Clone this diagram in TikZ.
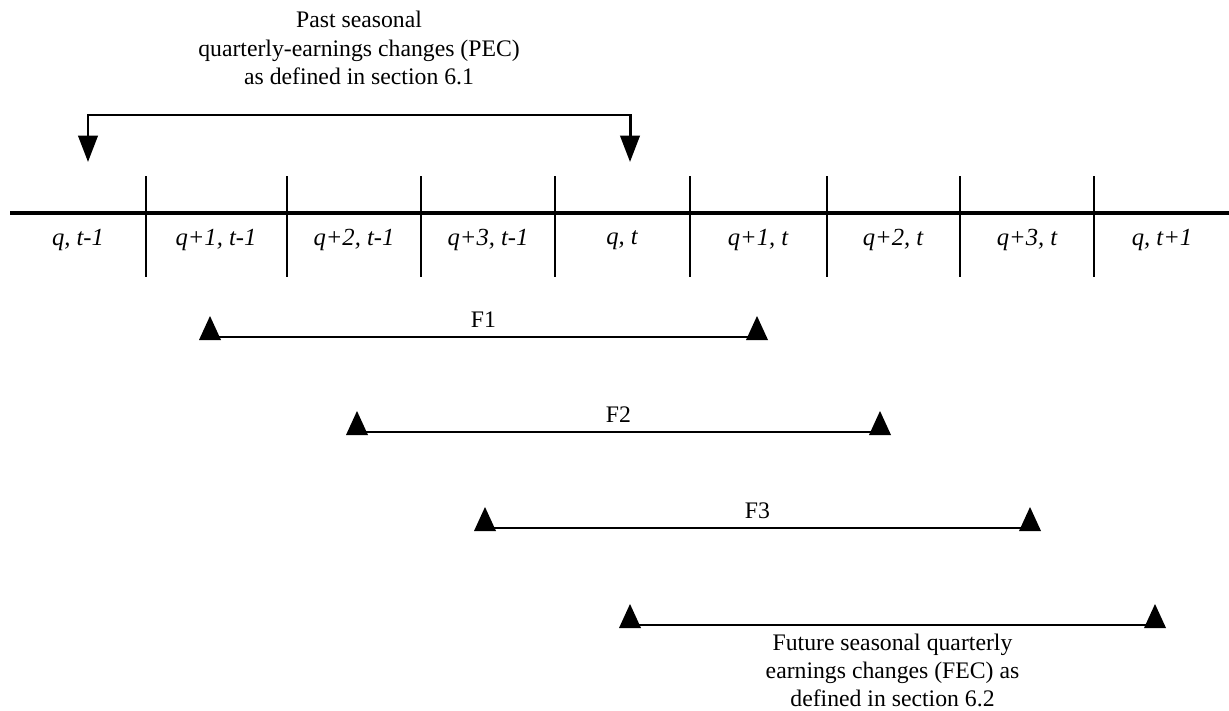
\documentclass[tikz,border=0pt]{standalone}
\usepackage{fontspec}
\setmainfont{Liberation Serif}
\usetikzlibrary{arrows.meta, positioning}

\begin{document}
\begin{tikzpicture}[
    x=0.02cm, y=-0.02cm,
    axis/.style={line width=1.9pt},
    tickline/.style={line width=1.2pt},
    cell/.style={font=\fontsize{14}{16}\selectfont\itshape},
    span/.style={line width=1.6pt},
    spanlabel/.style={midway, above=1pt, font=\fontsize{13.5}{15}\selectfont},
    pec/.style={line width=1.7pt, {Triangle[length=15pt,width=11pt]}-{Triangle[length=15pt,width=11pt]}},
    note/.style={align=center, font=\fontsize{13.5}{16}\selectfont},
    pics/upmark/.style={code={\fill (-11,3) -- (11,3) -- (0,-21) -- cycle;}},
]
\useasboundingbox (0,0) rectangle (1229,710);

% Timeline
\coordinate (start) at (10,213);
\coordinate (stop)  at (1229,213);
\draw[axis] (start) -- (stop);
\foreach \x in {146,287,421,555,690,827,960,1094}
    \draw[tickline] (\x,176) -- (\x,277);

% Quarter labels
\node[cell] (c1) at (78,240)   {q, t-1};
\node[cell] (c2) at (216,240)  {q+1, t-1};
\node[cell] (c3) at (354,240)  {q+2, t-1};
\node[cell] (c4) at (488,240)  {q+3, t-1};
\node[cell] (c5) at (622,240)  {q, t};
\node[cell] (c6) at (758,240)  {q+1, t};
\node[cell] (c7) at (893,240)  {q+2, t};
\node[cell] (c8) at (1027,240) {q+3, t};
\node[cell] (c9) at (1162,240) {q, t+1};

% Past changes
\node[note] (pectext) at (359,48) {Past seasonal\\
                                   quarterly-earnings changes (PEC)\\
                                   as defined in section 6.1};
\coordinate (pecL) at (88,162);
\coordinate (pecR) at (630,162);
\draw[pec] (pecL) -- ++(0,-47) -| (pecR);

% Forecast spans
\coordinate (f1a) at (210,337);  \coordinate (f1b) at (757,337);
\coordinate (f2a) at (357,432);  \coordinate (f2b) at (880,432);
\coordinate (f3a) at (485,528);  \coordinate (f3b) at (1030,528);
\coordinate (f4a) at (630,625);  \coordinate (f4b) at (1155,625);

\draw[span] (f1a) -- (f1b) node[spanlabel] {F1};
\draw[span] (f2a) -- (f2b) node[spanlabel] {F2};
\draw[span] (f3a) -- (f3b) node[spanlabel] {F3};
\draw[span] (f4a) -- (f4b)
    node[note, midway, below=1pt] {Future seasonal quarterly\\
                                   earnings changes (FEC) as\\
                                   defined in section 6.2};

\foreach \p in {f1a,f1b,f2a,f2b,f3a,f3b,f4a,f4b}
    \pic at (\p) {upmark};
\end{tikzpicture}
\end{document}
